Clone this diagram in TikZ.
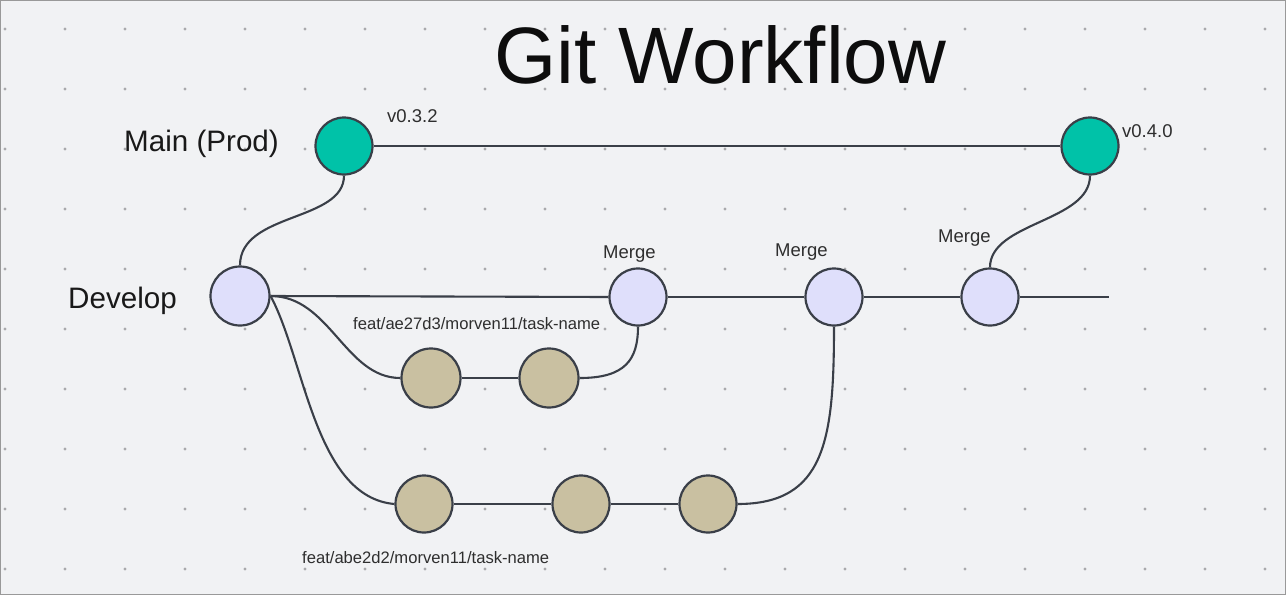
\documentclass[tikz,border=0pt]{standalone}
\usepackage{fontspec}
\setmainfont{Liberation Sans}
\definecolor{bg}{HTML}{F1F2F4}
\definecolor{dotc}{HTML}{A9A9AC}
\definecolor{edge}{HTML}{3A3F48}
\definecolor{mainc}{HTML}{00C2A8}
\definecolor{devc}{HTML}{DFDFFB}
\definecolor{featc}{HTML}{C9C0A1}
\definecolor{lbl}{HTML}{2E2E2E}
\pgfdeclarelayer{back}
\pgfdeclarelayer{edges}
\pgfsetlayers{back,edges,main}
\tikzset{
  commit/.style={circle, draw=edge, line width=2.2pt, inner sep=0pt},
  maincommit/.style={commit, fill=mainc, minimum size=57pt},
  devcommit/.style={commit, fill=devc, minimum size=57pt},
  featcommit/.style={commit, fill=featc, minimum size=59pt},
  link/.style={draw=edge, line width=2.1pt},
  bigl/.style={font=\fontsize{29.6}{31}\selectfont, text=black!90, inner sep=0pt, anchor=base west},
  smalll/.style={font=\fontsize{18.5}{20}\selectfont, text=lbl, inner sep=0pt, anchor=base west},
  branchl/.style={font=\fontsize{16.6}{18}\selectfont, text=lbl, inner sep=0pt, anchor=base west},
}
\begin{document}
\begin{tikzpicture}[x=1pt,y=-1pt]
\useasboundingbox (0,0) rectangle (1286,595);
\begin{pgfonlayer}{back}
\fill[bg] (0,0) rectangle (1286,595);
\foreach \i in {0,...,21} {
  \foreach \j in {0,...,9} {
    \fill[dotc] (5+60*\i, 29+60*\j) circle (1.6pt);
  }
}
\draw[gray!80, line width=1.2pt] (0.6,0.6) rectangle (1285.4,594.4);
\end{pgfonlayer}

% title
\node[font=\fontsize{80}{82}\selectfont, text=black!95, inner sep=0pt, anchor=base west] (title) at (494,83) {Git Workflow};

% commits
\node[maincommit] (m1) at (344,146) {};
\node[maincommit] (m2) at (1090,146) {};
\node[devcommit, minimum size=59pt] (d0) at (240,296) {};
\node[devcommit] (d1) at (638,297) {};
\node[devcommit] (d2) at (834,297) {};
\node[devcommit] (d3) at (990,297) {};
\coordinate (dend) at (1109,297);
\node[featcommit] (a1) at (431,378) {};
\node[featcommit] (a2) at (549,378) {};
\node[featcommit, minimum size=57pt] (b1) at (424,504) {};
\node[featcommit, minimum size=57pt] (b2) at (581,504) {};
\node[featcommit, minimum size=57pt] (b3) at (708,504) {};

% connectors
\begin{pgfonlayer}{edges}
\draw[link] (m1.east) -- (m2.west);
\draw[link] (m1.south) .. controls (344,222) and (240,212) .. (d0.north);
\draw[link] (m2.south) .. controls (1090,222) and (990,222) .. (d3.north);
\draw[link] (d0.east) -- (d1.west);
\draw[link] (d1.east) -- (d2.west);
\draw[link] (d2.east) -- (d3.west);
\draw[link] (d3.east) -- (dend);
\draw[link] (d0.east) .. controls (330,296) and (345,378) .. (a1.west);
\draw[link] (a1.east) -- (a2.west);
\draw[link] (a2.east) .. controls (625,378) and (638,360) .. (d1.south);
\draw[link] (d0.east) .. controls (305,360) and (315,497) .. (b1.west);
\draw[link] (b1.east) -- (b2.west);
\draw[link] (b2.east) -- (b3.west);
\draw[link] (b3.east) .. controls (825,504) and (834,440) .. (d2.south);
\end{pgfonlayer}

% labels
\node[bigl] (lmain) at (124,151) {Main (Prod)};
\node[bigl] (ldev) at (68,308) {Develop};
\node[smalll] (lv1) at (387,122) {v0.3.2};
\node[smalll] (lv2) at (1122,137) {v0.4.0};
\node[smalll] (lmg1) at (603,258) {Merge};
\node[smalll] (lmg2) at (775,256) {Merge};
\node[smalll] (lmg3) at (938,242) {Merge};
\node[branchl] (lf1) at (353,329) {feat/ae27d3/morven11/task-name};
\node[branchl] (lf2) at (302,563) {feat/abe2d2/morven11/task-name};
\end{tikzpicture}
\end{document}
